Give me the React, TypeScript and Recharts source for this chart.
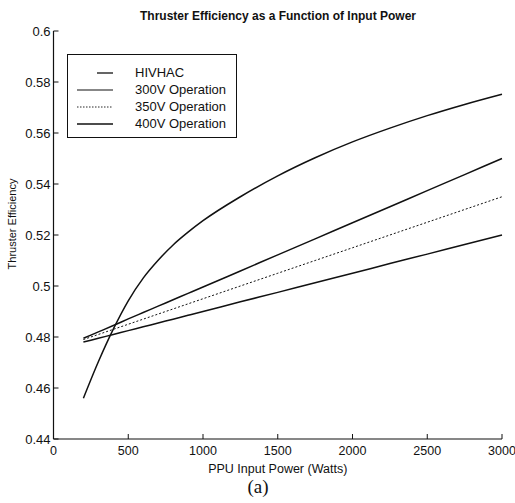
import React from 'react';
import { LineChart, Line, XAxis, YAxis, Legend } from 'recharts';

const powers = [200, 300, 400, 500, 600, 700, 800, 900, 1000, 1250, 1500, 1750, 2000, 2250, 2500, 2750, 3000];
const hivhac = [0.456, 0.4703, 0.4831, 0.4942, 0.5031, 0.5101, 0.5161, 0.5211, 0.5256, 0.535, 0.5432, 0.5503, 0.5565, 0.5619, 0.5668, 0.5712, 0.5752];
const op300 = [0.478, 0.4795, 0.481, 0.4825, 0.484, 0.4855, 0.487, 0.4885, 0.49, 0.4938, 0.4975, 0.5013, 0.505, 0.5088, 0.5125, 0.5163, 0.52];
const op350 = [0.479, 0.481, 0.483, 0.485, 0.487, 0.489, 0.491, 0.493, 0.495, 0.5, 0.505, 0.51, 0.515, 0.52, 0.525, 0.53, 0.535];
const op400 = [0.4795, 0.482, 0.4845, 0.4871, 0.4896, 0.4921, 0.4946, 0.4971, 0.4996, 0.5059, 0.5122, 0.5185, 0.5248, 0.5311, 0.5374, 0.5437, 0.55];

const xTicks = [0, 500, 1000, 1500, 2000, 2500, 3000];
const yTicks = [0.44, 0.46, 0.48, 0.5, 0.52, 0.54, 0.56, 0.58, 0.6];

const seriesNames = ['HIVHAC', '300V Operation', '350V Operation', '400V Operation'];

const data = powers.map((p, i) => ({
  power: p,
  hivhac: hivhac[i],
  op300: op300[i],
  op350: op350[i],
  op400: op400[i],
}));

const font = '"Liberation Sans", Arial, Helvetica, sans-serif';
const ink = '#111';

const fmtY = (v: number) => String(Number(v.toFixed(2)));

const LegendBox = () => {
  const samples = [
    { x1: 20, x2: 36, dash: undefined, w: 1.3 },
    { x1: 0, x2: 36, dash: undefined, w: 1.2 },
    { x1: 0, x2: 36, dash: '1.5 1.5', w: 0.9 },
    { x1: 0, x2: 36, dash: undefined, w: 1.6 },
  ];
  return (
    <div
      style={{
        border: `1px solid ${ink}`,
        background: '#fff',
        width: 170,
        height: 84,
        boxSizing: 'border-box',
        padding: '9px 0 0 9px',
        fontFamily: font,
        fontSize: 13,
        color: ink,
      }}
    >
      {seriesNames.map((name, i) => (
        <div key={name} style={{ display: 'flex', alignItems: 'center', height: 17 }}>
          <svg width={36} height={6} style={{ marginRight: 22 }}>
            <line
              x1={samples[i].x1}
              x2={samples[i].x2}
              y1={3}
              y2={3}
              stroke={ink}
              strokeWidth={samples[i].w}
              strokeDasharray={samples[i].dash}
            />
          </svg>
          <span>{name}</span>
        </div>
      ))}
    </div>
  );
};

export default function App() {
  return (
    <div style={{ position: 'absolute', left: 0, top: 0, width: 515, height: 503, background: '#fff' }}>
      <LineChart
        width={515}
        height={503}
        data={data}
        margin={{ top: 31, right: 13, left: 0, bottom: 0 }}
      >
        <XAxis
          dataKey="power"
          type="number"
          domain={[0, 3000]}
          ticks={xTicks}
          height={64}
          tickSize={-5}
          tickMargin={12}
          stroke={ink}
          tick={{ fill: ink, fontSize: 12.5, fontFamily: font }}
          axisLine={{ stroke: ink, strokeWidth: 1.2 }}
          label={{
            value: 'PPU Input Power (Watts)',
            position: 'insideTop',
            offset: 25,
            fill: ink,
            fontSize: 12.5,
            fontFamily: font,
          }}
        />
        <XAxis
          xAxisId="top"
          orientation="top"
          type="number"
          domain={[0, 3000]}
          ticks={xTicks}
          height={0}
          tickSize={-5}
          tickFormatter={() => ''}
          stroke={ink}
          axisLine={{ stroke: ink, strokeWidth: 1.2 }}
        />
        <YAxis
          type="number"
          domain={[0.44, 0.6]}
          ticks={yTicks}
          width={53.5}
          tickSize={-5}
          tickMargin={8}
          tickFormatter={fmtY}
          stroke={ink}
          tick={{ fill: ink, fontSize: 13, fontFamily: font }}
          axisLine={{ stroke: ink, strokeWidth: 1.2 }}
        />
        <YAxis
          yAxisId="right"
          orientation="right"
          type="number"
          domain={[0.44, 0.6]}
          ticks={yTicks}
          width={0}
          tickSize={-5}
          tickFormatter={() => ''}
          stroke={ink}
          axisLine={{ stroke: ink, strokeWidth: 1.2 }}
        />
        <Legend
          layout="vertical"
          verticalAlign="middle"
          align="center"
          content={() => <LegendBox />}
          wrapperStyle={{ position: 'absolute', left: 67, top: 54, width: 170, height: 84 }}
        />
        <Line type="monotone" dataKey="hivhac" name={seriesNames[0]} stroke={ink} strokeWidth={1.5} dot={false} isAnimationActive={false} />
        <Line type="monotone" dataKey="op300" name={seriesNames[1]} stroke={ink} strokeWidth={1.5} dot={false} isAnimationActive={false} />
        <Line type="monotone" dataKey="op350" name={seriesNames[2]} stroke={ink} strokeWidth={1} strokeDasharray="2 2" dot={false} isAnimationActive={false} />
        <Line type="monotone" dataKey="op400" name={seriesNames[3]} stroke={ink} strokeWidth={1.5} dot={false} isAnimationActive={false} />
        <text x={278} y={20} textAnchor="middle" fontSize={12} fontWeight="bold" fontFamily={font} fill={ink}>
          Thruster Efficiency as a Function of Input Power
        </text>
        <text
          x={16}
          y={224}
          textAnchor="middle"
          transform="rotate(-90 16 224)"
          fontSize={11}
          fontFamily={font}
          fill={ink}
        >
          Thruster Efficiency
        </text>
        <text x={258} y={493} textAnchor="middle" fontSize={19} fontFamily='"Liberation Serif", "Times New Roman", serif' fill={ink}>
          (a)
        </text>
      </LineChart>
    </div>
  );
}
